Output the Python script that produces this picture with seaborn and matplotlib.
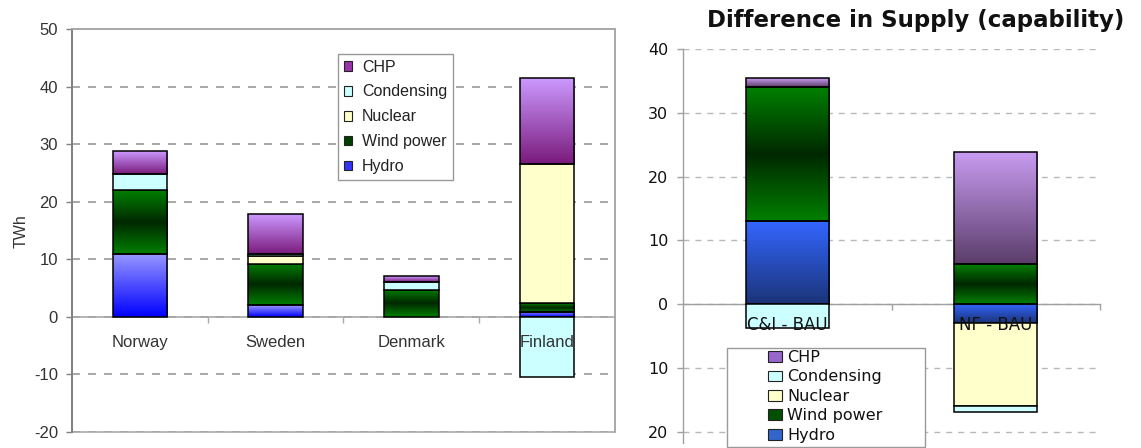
import numpy as np
import pandas as pd
import matplotlib
matplotlib.use("Agg")
import matplotlib.pyplot as plt
from matplotlib.patches import Rectangle, Patch
from matplotlib.colors import LinearSegmentedColormap
import seaborn as sns

# ---------------- data ----------------
sources = ["Hydro", "Wind power", "Nuclear", "Condensing", "CHP"]
legend_order = ["CHP", "Condensing", "Nuclear", "Wind power", "Hydro"]

countries = ["Norway", "Sweden", "Denmark", "Finland"]
hydro_c = [11.0, 2.0, 0.0, 0.9]
wind_c = [11.0, 7.2, 4.7, 1.5]
nuclear_c = [0.0, 1.4, 0.0, 24.2]
condensing_c = [2.9, 0.4, 1.4, -10.4]
chp_c = [3.9, 6.8, 1.0, 14.9]

scenarios = ["C&I - BAU", "NF - BAU"]
hydro_s = [13.0, -3.0]
wind_s = [21.0, 6.2]
nuclear_s = [0.0, -13.0]
condensing_s = [-3.8, -1.0]
chp_s = [1.4, 17.7]

left_yticks = [50, 40, 30, 20, 10, 0, -10, -20]
right_yticks = [40, 30, 20, 10, 0, -10, -20]
right_ytick_labels = ["40", "30", "20", "10", "0", "10", "20"]

title_right = "Difference in Supply (capability)"
ylabel_left = "TWh"

# ---------------- styles ----------------
solid = {"Condensing": "#CCFFFF", "Nuclear": "#FFFFCC"}
grad_left = {
    "CHP": ["#CC99FF", "#7A1A7C"],
    "Wind power": ["#008000", "#002800", "#008000"],
    "Hydro": ["#9999FF", "#0000FF"],
}
grad_right = {
    "CHP": ["#C99CF2", "#5B3D6A"],
    "Wind power": ["#008000", "#002800", "#008000"],
    "Hydro": ["#3366FF", "#1B3478"],
}
leg_left = {"CHP": "#9933AA", "Condensing": "#CCFFFF", "Nuclear": "#FFFFCC",
            "Wind power": "#004000", "Hydro": "#3333FF"}
leg_right = {"CHP": "#9966CC", "Condensing": "#CCFFFF", "Nuclear": "#FFFFCC",
             "Wind power": "#005000", "Hydro": "#3366CC"}


def long_frame(cats, series):
    rows = []
    pos = {c: 0.0 for c in cats}
    neg = {c: 0.0 for c in cats}
    for src, vals in series.items():
        for c, v in zip(cats, vals):
            if v >= 0:
                b = pos[c]
                pos[c] += v
            else:
                b = neg[c]
                neg[c] += v
            rows.append(dict(cat=c, source=src, value=v, bottom=b))
    return pd.DataFrame(rows)


df_left = long_frame(countries, {"Hydro": hydro_c, "Wind power": wind_c, "Nuclear": nuclear_c,
                                 "Condensing": condensing_c, "CHP": chp_c})
df_right = long_frame(scenarios, {"Hydro": hydro_s, "Wind power": wind_s, "Nuclear": nuclear_s,
                                  "Condensing": condensing_s, "CHP": chp_s})


def draw_panel(ax, df, cats, grads):
    grad_arr = np.linspace(0, 1, 256).reshape(-1, 1)
    for src in sources:
        sub = df[df.source == src].set_index("cat").loc[cats].reset_index()
        n0 = len(ax.patches)
        sns.barplot(data=sub, x="cat", y="value", order=cats,
                    bottom=sub["bottom"].to_numpy(),
                    color=solid.get(src, grads.get(src, ["#888888"])[0]),
                    saturation=1, width=0.4, edgecolor="black", linewidth=1.1,
                    errorbar=None, ax=ax)
        for p in ax.patches[n0:]:
            h = p.get_height()
            if h == 0:
                p.set_visible(False)
                continue
            p.set_zorder(1.05)
            if src in grads:
                x0, y0 = p.get_xy()
                w = p.get_width()
                ylo, yhi = min(y0, y0 + h), max(y0, y0 + h)
                cmap = LinearSegmentedColormap.from_list(src, grads[src])
                im = ax.imshow(grad_arr, cmap=cmap, extent=[x0, x0 + w, ylo, yhi],
                               origin="upper", aspect="auto", interpolation="bilinear",
                               zorder=1.02)
                im.set_clip_path(p)
                p.set_facecolor("none")
    ax.set_xlabel("")
    ax.set_ylabel("")


W, H = 1141, 448
fig = plt.figure(figsize=(W / 100, H / 100), dpi=100)
fig.patch.set_facecolor("white")

# ---------------- left panel ----------------
axL = fig.add_axes([72 / W, 1 - 432 / H, 543 / W, 403 / H])
draw_panel(axL, df_left, countries, grad_left)
axL.set_xlim(-0.5, 3.5)
axL.set_ylim(-20, 50)
axL.set_yticks(left_yticks)
axL.set_yticklabels([str(v) for v in left_yticks])
axL.set_xticks(range(len(countries)))
axL.set_xticklabels(countries)
axL.set_xticks([0.5, 1.5, 2.5], minor=True)
axL.set_axisbelow(True)
axL.yaxis.grid(True, linestyle=(0, (4.8, 4.8)), color="#9A9A9A", linewidth=1.2)
axL.xaxis.grid(False)
axL.xaxis.set_zorder(3)
for s in ["top", "right"]:
    axL.spines[s].set_color("#A8A8A8")
    axL.spines[s].set_linewidth(1.2)
axL.spines["left"].set_color("#808080")
axL.spines["left"].set_linewidth(1.4)
axL.spines["bottom"].set_position(("data", 0))
axL.spines["bottom"].set_color("#A8A8A8")
axL.spines["bottom"].set_linewidth(1.2)
axL.spines["bottom"].set_zorder(0.6)
axL.add_patch(Rectangle((0, 0), 1, 1, transform=axL.transAxes, fill=False,
                        edgecolor="#A8A8A8", linewidth=1.2, zorder=0.7, clip_on=False))
axL.tick_params(axis="y", which="major", length=4, width=1, color="#808080", pad=6,
                labelsize=12, labelcolor="#333333")
axL.tick_params(axis="x", which="major", length=0, pad=13, labelsize=12, labelcolor="#333333")
axL.tick_params(axis="x", which="minor", length=4, width=1, color="#A8A8A8", direction="out")
for lab in axL.get_xticklabels() + axL.get_yticklabels():
    lab.set_fontfamily("Liberation Sans")

handlesL = [Patch(facecolor=leg_left[k], edgecolor="#222222", linewidth=0.8, label=k)
            for k in legend_order]
legL = axL.legend(handles=handlesL, loc="upper left", bbox_to_anchor=(0.490, 0.938),
                  borderaxespad=0, frameon=True, fancybox=False, edgecolor="#999999",
                  framealpha=1, prop={"family": "Liberation Sans", "size": 11.5},
                  handlelength=0.55, handleheight=0.55, handletextpad=0.6,
                  labelspacing=0.62, borderpad=0.35)
legL.get_frame().set_linewidth(1.0)
for t in legL.get_texts():
    t.set_color("#222222")
legL.set_zorder(5)

fig.text(21 / W, 1 - 231 / H, ylabel_left, rotation=90, ha="center", va="center",
         family="Liberation Sans", fontsize=11.5, color="#333333")

# ---------------- right panel ----------------
axR = fig.add_axes([683 / W, 1 - 443 / H, 417 / W, 394 / H])
draw_panel(axR, df_right, scenarios, grad_right)
axR.set_xlim(-0.5, 1.5)
axR.set_ylim(-21.8, 40)
axR.set_yticks(right_yticks)
axR.set_yticklabels(right_ytick_labels)
axR.set_xticks(range(len(scenarios)))
axR.set_xticklabels(scenarios)
axR.set_xticks([0.5, 1.5], minor=True)
axR.set_axisbelow(True)
axR.yaxis.grid(True, linestyle=(0, (4.3, 4.3)), color="#B8B8B8", linewidth=1.0)
axR.xaxis.grid(False)
axR.xaxis.set_zorder(3)
for s in ["top", "right"]:
    axR.spines[s].set_visible(False)
axR.spines["left"].set_color("#A0A0A0")
axR.spines["left"].set_linewidth(1.0)
axR.spines["bottom"].set_position(("data", 0))
axR.spines["bottom"].set_color("#A0A0A0")
axR.spines["bottom"].set_linewidth(1.0)
axR.spines["bottom"].set_zorder(0.6)
axR.tick_params(axis="y", which="major", length=4, width=1, color="#A0A0A0", pad=6.5,
                labelsize=11.5, labelcolor="#111111")
axR.tick_params(axis="x", which="major", length=0, pad=8.5, labelsize=12, labelcolor="#111111")
axR.tick_params(axis="x", which="minor", length=4, width=1, color="#A0A0A0", direction="out")
for lab in axR.get_xticklabels() + axR.get_yticklabels():
    lab.set_fontfamily("DejaVu Sans")

fig.add_artist(Rectangle((727 / W, 1 / H), 198 / W, 99 / H, transform=fig.transFigure,
                         facecolor="white", edgecolor="#999999", linewidth=1.0, zorder=4))
handlesR = [Patch(facecolor=leg_right[k], edgecolor="#222222", linewidth=0.8, label=k)
            for k in legend_order]
legR = fig.legend(handles=handlesR, loc="upper left", bbox_to_anchor=(768 / W, 1 - 350 / H),
                  borderaxespad=0, frameon=False,
                  prop={"family": "DejaVu Sans", "size": 11.5},
                  handlelength=0.9, handleheight=0.65, handletextpad=0.3,
                  labelspacing=0.28, borderpad=0)
legR.set_zorder(5)
for t in legR.get_texts():
    t.set_color("#111111")

fig.text(916 / W, 1 - 21 / H, title_right, ha="center", va="center",
         family="DejaVu Sans", fontweight="bold", fontsize=16.5, color="#111111")

fig.savefig("out.png", dpi=100, facecolor="white")
